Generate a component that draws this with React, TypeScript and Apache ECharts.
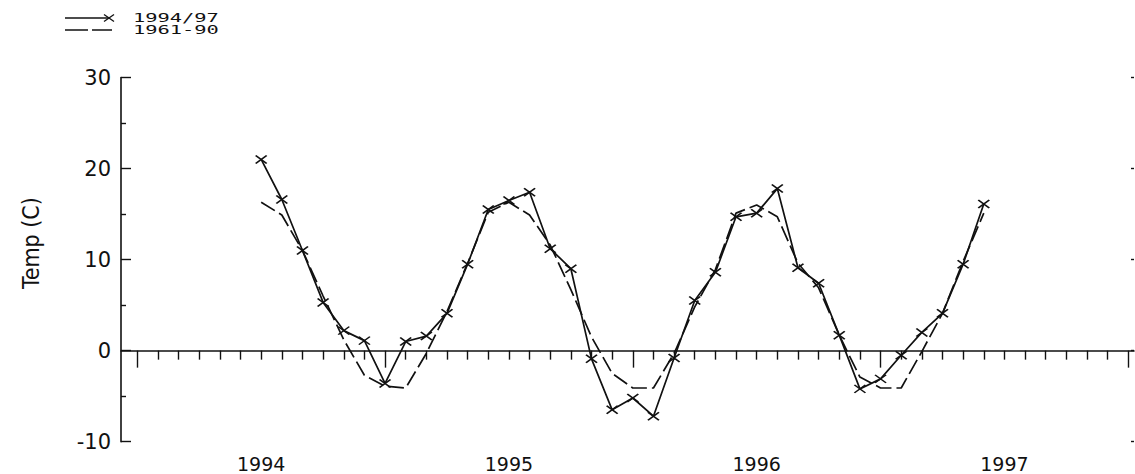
import React, { useEffect, useRef } from 'react';
import * as echarts from 'echarts';

// Months counted from January 1994 (0 = Jan 1994, 48 = Jan 1998)
const START_MONTH = 6; // first plotted month: July 1994
const AXIS_MONTHS = 48;
const yearLabels = ['1994', '1995', '1996', '1997'];
const yTicks = { min: -10, max: 30, step: 10 };

// Monthly mean temperature 1994/97 (deg C), Jul 1994 .. Jun 1997
const obsTemps = [
  21.0, 16.6, 11.0, 5.3, 2.2, 1.1,
  -3.6, 1.0, 1.6, 4.1, 9.5, 15.5,
  16.5, 17.4, 11.2, 9.0, -0.9, -6.5,
  -5.2, -7.2, -0.8, 5.5, 8.6, 14.7,
  15.1, 17.8, 9.1, 7.4, 1.7, -4.2,
  -3.1, -0.5, 2.0, 4.1, 9.5, 16.1,
];

// 1961-90 normal (deg C), same months
const normTemps = [
  16.3, 14.9, 11.0, 6.0, 1.2, -2.7,
  -3.9, -4.1, -0.3, 4.3, 9.6, 15.2,
  16.3, 14.9, 11.6, 6.7, 1.5, -2.5,
  -4.1, -4.1, -0.3, 4.8, 8.9, 15.1,
  16.0, 14.7, 9.6, 6.9, 1.7, -2.9,
  -4.1, -4.1, -0.1, 4.1, 9.8, 15.1,
];

const seriesNames = ['1994/97', '1961-90'];

const INK = '#111';
const X_SYMBOL = 'path://M0 0L10 10M10 0L0 10';

function buildOption() {
  const obsData = obsTemps.map((v, i) => [START_MONTH + i, v]);
  const normData = normTemps.map((v, i) => [START_MONTH + i, v]);
  const gridTop = 77.5;
  const gridBottom = 32.3;
  return {
    animation: false,
    backgroundColor: '#ffffff',
    grid: [
      { left: 121, right: 1, top: gridTop, bottom: gridBottom },
      { left: 137.3, right: 6.7, top: gridTop, bottom: gridBottom },
    ],
    xAxis: [
      {
        gridIndex: 0,
        type: 'value',
        min: 0,
        max: 1,
        axisLine: { show: true, onZero: true, lineStyle: { color: INK, width: 1.6 } },
        axisTick: { show: false },
        axisLabel: { show: false },
        splitLine: { show: false },
      },
      {
        gridIndex: 1,
        type: 'value',
        position: 'bottom',
        min: 0,
        max: AXIS_MONTHS,
        interval: 12,
        axisLine: { show: false, onZero: true },
        axisTick: { show: true, length: 17, lineStyle: { color: INK, width: 1.4 } },
        minorTick: { show: true, splitNumber: 12, length: 9, lineStyle: { color: INK, width: 1.4 } },
        axisLabel: { show: false },
        splitLine: { show: false },
        minorSplitLine: { show: false },
      },
      {
        gridIndex: 1,
        type: 'value',
        position: 'bottom',
        min: 0,
        max: AXIS_MONTHS,
        interval: 6,
        axisLine: { show: false, onZero: false },
        axisTick: { show: false },
        axisLabel: {
          show: true,
          margin: 14,
          color: INK,
          fontFamily: 'DejaVu Sans',
          fontSize: 19,
          lineHeight: 16,
          formatter: (v: number) => (v % 12 === 6 ? yearLabels[(v - 6) / 12] ?? '' : ''),
        },
        splitLine: { show: false },
      },
    ],
    yAxis: [
      {
        gridIndex: 0,
        type: 'value',
        position: 'left',
        min: yTicks.min,
        max: yTicks.max,
        interval: yTicks.step,
        axisLine: { show: true, onZero: false, lineStyle: { color: INK, width: 1.6 } },
        axisTick: { show: true, inside: true, length: 10, lineStyle: { color: INK, width: 1.4 } },
        minorTick: { show: true, splitNumber: 2, length: 5, lineStyle: { color: INK, width: 1.4 } },
        axisLabel: { color: INK, fontFamily: 'DejaVu Sans', fontSize: 21, margin: 10 },
        splitLine: { show: false },
        name: 'Temp (C)',
        nameLocation: 'middle',
        nameRotate: 90,
        nameGap: 79,
        nameTextStyle: {
          color: INK,
          fontFamily: "'Liberation Sans Narrow', 'DejaVu Sans Condensed', sans-serif",
          fontSize: 23,
          padding: [0, 0, 0, 33],
        },
      },
      {
        gridIndex: 0,
        type: 'value',
        position: 'right',
        min: yTicks.min,
        max: yTicks.max,
        interval: yTicks.step,
        axisLine: { show: false, onZero: false },
        axisTick: { show: true, inside: true, length: 3, lineStyle: { color: INK, width: 1.4 } },
        axisLabel: { show: false },
        splitLine: { show: false },
      },
      {
        gridIndex: 1,
        type: 'value',
        min: yTicks.min,
        max: yTicks.max,
        interval: yTicks.step,
        show: false,
      },
    ],
    graphic: [
      { type: 'line', shape: { x1: 65, y1: 18, x2: 108, y2: 18 }, style: { stroke: INK, lineWidth: 1.3 } },
      { type: 'line', shape: { x1: 104, y1: 14.5, x2: 114, y2: 21.5 }, style: { stroke: INK, lineWidth: 1.3 } },
      { type: 'line', shape: { x1: 104, y1: 21.5, x2: 114, y2: 14.5 }, style: { stroke: INK, lineWidth: 1.3 } },
      { type: 'line', shape: { x1: 65, y1: 30, x2: 112, y2: 30 }, style: { stroke: INK, lineWidth: 1.3, lineDash: [23, 4] } },
      {
        type: 'text',
        x: 133,
        y: 18,
        scaleX: 1.7,
        style: { text: seriesNames[0], fill: INK, fontFamily: 'DejaVu Sans Mono', fontSize: 12, verticalAlign: 'middle' },
      },
      {
        type: 'text',
        x: 133,
        y: 30,
        scaleX: 1.7,
        style: { text: seriesNames[1], fill: INK, fontFamily: 'DejaVu Sans Mono', fontSize: 12, verticalAlign: 'middle' },
      },
    ],
    series: [
      {
        name: seriesNames[0],
        type: 'line',
        xAxisIndex: 1,
        yAxisIndex: 2,
        data: obsData,
        symbol: X_SYMBOL,
        symbolSize: [11, 8],
        showSymbol: true,
        itemStyle: { color: INK, borderColor: INK, borderWidth: 1.6 },
        lineStyle: { color: INK, width: 1.7 },
        z: 3,
      },
      {
        name: seriesNames[1],
        type: 'line',
        xAxisIndex: 1,
        yAxisIndex: 2,
        data: normData,
        symbol: 'none',
        itemStyle: { color: INK },
        lineStyle: { color: INK, width: 1.7, type: [16, 5] },
        z: 2,
      },
    ],
  };
}

export default function App() {
  const ref = useRef<HTMLDivElement>(null);
  useEffect(() => {
    document.body.style.margin = '0';
    if (!ref.current) return;
    const chart = echarts.init(ref.current, null, { renderer: 'svg' });
    chart.setOption(buildOption() as any);
    return () => chart.dispose();
  }, []);
  return <div ref={ref} style={{ width: 1135, height: 474, background: '#fff' }} />;
}
